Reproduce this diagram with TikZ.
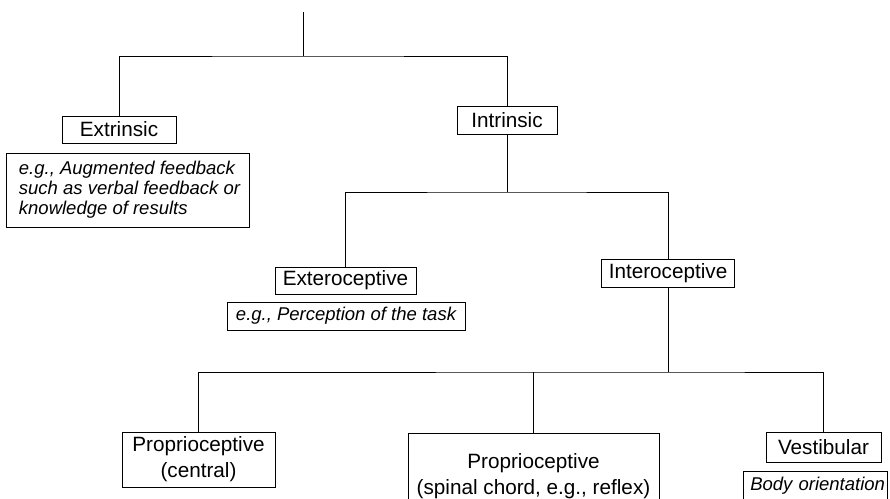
\documentclass[tikz,border=0pt]{standalone}
\usepackage{fontspec}
\setmainfont{Liberation Sans}
\begin{document}
\begin{tikzpicture}[x=1pt,y=-1pt,
  line width=1pt,
  lbl/.style={draw, inner sep=0pt, align=center, font=\fontsize{20.7}{26}\selectfont},
  note/.style={draw, inner sep=0pt, font=\fontsize{18.5}{20}\selectfont\itshape},
  conn/.style={line width=1pt}]
\clip (0,0) rectangle (890,498);
% nodes
\coordinate (top) at (303,12);
\coordinate (j1) at (303,56);
\node[lbl, minimum width=114, minimum height=27] (extr) at (119,129.5) {Extrinsic};
\node[note, minimum width=240, minimum height=74, inner xsep=9pt, align=left] (extrnote) at (128,190)
  {\hspace*{3pt}e.g., Augmented feedback\\\hspace*{3pt}such as verbal feedback or\\\hspace*{3pt}knowledge of results};
\node[lbl, minimum width=100, minimum height=28] (intr) at (507,120) {Intrinsic};
\coordinate (j2) at (507,192);
\node[lbl, minimum width=141, minimum height=27] (exte) at (345.5,280.5) {Exteroceptive};
\node[note, minimum width=238, minimum height=28] (extenote) at (346,316) {e.g., Perception of the task};
\node[lbl, minimum width=133, minimum height=28] (inte) at (668,273) {Interoceptive};
\coordinate (j3) at (668,372);
\node[lbl, minimum width=153, minimum height=55] (propc) at (198.5,459.5) {Proprioceptive\\(central)};
\node[lbl, minimum width=251, minimum height=86] (props) at (533.5,476) {Proprioceptive\\(spinal chord, e.g., reflex)};
\node[lbl, minimum width=115, minimum height=30] (vest) at (823.5,447) {Vestibular};
\node[note, minimum width=144, minimum height=29, text width=140, align=right] (vestnote) at (815,485.5) {Body orientation};
% connectors
\draw[conn] (top) -- (j1);
\draw[conn] (extr.north) |- (j1) -| (intr.north);
\draw[conn] (intr.south) -- (j2);
\draw[conn] (exte.north) |- (j2) -| (inte.north);
\draw[conn] (inte.south) -- (j3);
\draw[conn] (propc.north) |- (j3) -| (vest.north);
\draw[conn] (j3 -| props.north) -- (props.north);
\end{tikzpicture}
\end{document}
